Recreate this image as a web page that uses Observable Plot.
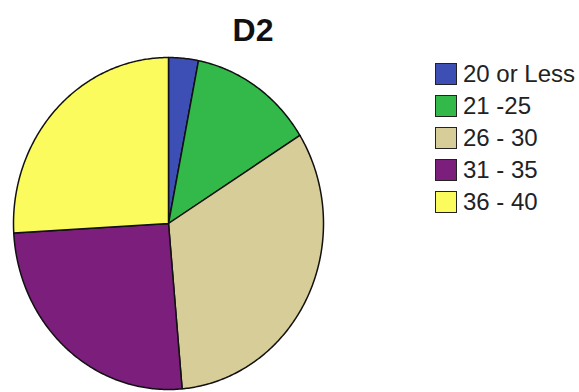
<!DOCTYPE html>
<html><head><meta charset="utf-8">
<script src="https://cdn.jsdelivr.net/npm/d3@7"></script>
<script src="https://cdn.jsdelivr.net/npm/@observablehq/plot@0.6"></script>
<style>
body{margin:0;background:#fff;font-family:"Liberation Sans",Arial,sans-serif;}
#wrap{position:relative;width:579px;height:392px;overflow:hidden;}
#title{position:absolute;left:0;width:506px;top:12px;text-align:center;font-weight:bold;font-size:32px;color:#111;}
#legend{position:absolute;left:435px;top:58px;}
.item{display:flex;align-items:center;height:32px;font-size:24px;color:#222;white-space:nowrap;}
.sw{width:20px;height:20px;border:1.5px solid #222;margin-right:6px;box-sizing:content-box;}
#chart{position:absolute;left:0;top:0;}
</style></head>
<body><div id="wrap"><div id="chart"></div><div id="title">D2</div><div id="legend"></div></div>
<script>
const categories = ["20 or Less", "21 -25", "26 - 30", "31 - 35", "36 - 40"];
const values = [3.1, 13.0, 32.5, 25.5, 25.9];
const colors = ["#3d4fb4", "#33b84a", "#d6cd98", "#7c1f7c", "#fbfb5e"];

const data = categories.map((c, i) => ({cat: c, value: values[i]}));
const arcs = d3.pie().sort(null).value(d => d.value)(data);
const pts = [];
arcs.forEach(a => {
  const n = Math.max(2, Math.ceil((a.endAngle - a.startAngle) / 0.01));
  pts.push({cat: a.data.cat, x: 0, y: 0});
  for (let k = 0; k <= n; k++) {
    const t = a.startAngle + (a.endAngle - a.startAngle) * k / n;
    pts.push({cat: a.data.cat, x: Math.sin(t), y: Math.cos(t)});
  }
  pts.push({cat: a.data.cat, x: 0, y: 0});
});

const chart = Plot.plot({
  width: 579, height: 392, margin: 0,
  x: {domain: [-1, 1], range: [13, 323], axis: null},
  y: {domain: [-1, 1], range: [389, 57], axis: null},
  color: {domain: categories, range: colors},
  marks: [
    Plot.line(pts, {x: "x", y: "y", z: "cat", fill: "cat", stroke: "#111", strokeWidth: 1.5, strokeLinejoin: "round"})
  ]
});
document.getElementById("chart").appendChild(chart);

const leg = document.getElementById("legend");
categories.forEach((c, i) => {
  const it = document.createElement("div"); it.className = "item";
  const sw = document.createElement("div"); sw.className = "sw"; sw.style.background = colors[i];
  const tx = document.createElement("span"); tx.textContent = c;
  it.appendChild(sw); it.appendChild(tx); leg.appendChild(it);
});
</script>
</body></html>
